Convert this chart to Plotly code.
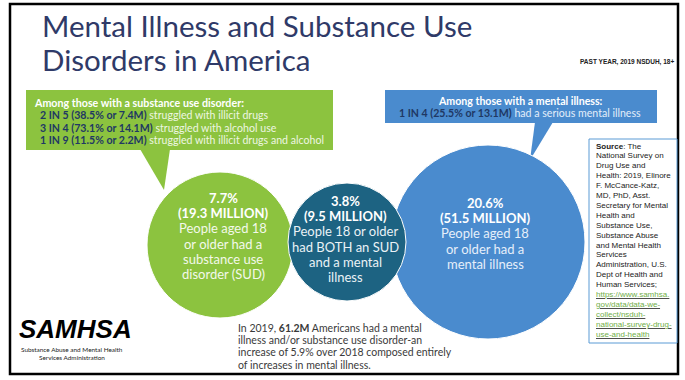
import plotly.graph_objects as go

# ---- figures from the 2019 NSDUH (past year, adults 18+) ----
group_pct = [7.7, 3.8, 20.6]
group_millions = [19.3, 9.5, 51.5]
group_desc = [
    ["People aged 18", "or older had a", "substance use", "disorder (SUD)"],
    ["People 18 or older", "had BOTH an SUD", "and a mental", "illness"],
    ["People aged 18", "or older had a", "mental illness"],
]

sud_ratio = ["2 IN 5", "3 IN 4", "1 IN 9"]
sud_pct = [38.5, 73.1, 11.5]
sud_millions = [7.4, 14.1, 2.2]
sud_desc = ["struggled with illicit drugs", "struggled with alcohol use",
            "struggled with illicit drugs and alcohol"]

smi_ratio = "1 IN 4"
smi_pct = 25.5
smi_millions = 13.1
smi_desc = "had a serious mental illness"

total_millions = 61.2
increase_pct = 5.9

source_lines = [
    "<b>Source</b>: The", "National Survey on", "Drug Use and",
    "Health: 2019, Elinore", "F. McCance-Katz,", "MD, PhD, Asst.",
    "Secretary for Mental", "Health and", "Substance Use,",
    "Substance Abuse", "and Mental Health", "Services",
    "Administration, U.S.", "Dept of Health and", "Human Services;",
]
source_link = ["https://www.samhsa.", "gov/data/data-we-", "collect/nsduh-",
               "national-survey-drug-", "use-and-health"]

# ---- styling ----
GREEN = "#8cc33f"
TEAL = "#1d6382"
BLUE = "#4a8bce"
NAVY = "#1f3864"
TITLE = "#2f3a68"
SANS = "Lato"

W, H = 685, 380
fig = go.Figure()
shapes = []
ann = []


def text(x, y, s, size, color="white", family=SANS, xanchor="center", weight=None):
    f = dict(size=size, color=color, family=family)
    if weight:
        f["weight"] = weight
    ann.append(dict(x=x, y=y, xref="x", yref="y", text=s, showarrow=False,
                    xanchor=xanchor, yanchor="middle", font=f))


# outer frame
shapes.append(dict(type="rect", x0=10, y0=4, x1=678, y1=374,
                   line=dict(color="black", width=2.5), fillcolor="white", layer="below"))

# title
text(40, 25, "Mental Illness and Substance Use", 29.5, TITLE, xanchor="left")
text(40, 59, "Disorders in America", 29.5, TITLE, xanchor="left")
text(676, 62, "<b>PAST YEAR, 2019 NSDUH, 18+</b>", 6.5, "#222", "Liberation Sans", xanchor="right")

# green call-out box with pointer
shapes.append(dict(type="rect", x0=26, y0=90, x1=333, y1=150, fillcolor=GREEN,
                   line=dict(width=0)))
shapes.append(dict(type="path", path="M 140 149 L 170 149 L 164 190 Z",
                   fillcolor=GREEN, line=dict(width=0)))
text(32, 102, "<b>Among those with a substance use disorder:</b>", 10.7, "white", xanchor="left")
for i in range(3):
    s = (f"<b><span style='color:{NAVY}'>{sud_ratio[i]} ({sud_pct[i]}% or {sud_millions[i]}M)</span></b>"
         f" <span style='color:#eef6e2'>{sud_desc[i]}</span>")
    text(38, 115 + 12.5 * i, s, 10.6, xanchor="left")

# blue call-out box with pointer
shapes.append(dict(type="rect", x0=385, y0=90, x1=657, y1=123, fillcolor=BLUE,
                   line=dict(width=0)))
shapes.append(dict(type="path", path="M 535 122 L 553 122 L 530 160 Z",
                   fillcolor=BLUE, line=dict(width=0)))
text(520, 101, "<b>Among those with a mental illness:</b>", 10.6)
text(520, 113, (f"<b><span style='color:{NAVY}'>{smi_ratio} ({smi_pct}% or {smi_millions}M)</span></b>"
                f" <span style='color:#e3eefa'>{smi_desc}</span>"), 10.6)

# circles: SUD, mental illness, then the overlap on top
circles = [(220, 245, 73, GREEN), (488, 242, 97, BLUE), (347, 242, 59, TEAL)]
for cx, cy, r, col in circles:
    shapes.append(dict(type="circle", x0=cx - r, y0=cy - r, x1=cx + r, y1=cy + r,
                       fillcolor=col, line=dict(color="white", width=1)))

centers = [(223, 198), (345, 201), (485, 203)]
soft = ["#f3f9ea", "#eaf2f6", "#e6effa"]
for k in range(3):
    cx, y0 = centers[k]
    text(cx, y0, f"<b>{group_pct[k]}%</b>", 13)
    text(cx, y0 + 15.2, f"<b>({group_millions[k]} MILLION)</b>", 13)
    for j, line in enumerate(group_desc[k]):
        text(cx, y0 + 30.4 + 15.2 * j, line, 13, soft[k])

# summary paragraph
para = [
    f"In 2019, <b>{total_millions}M</b> Americans had a mental",
    "illness and/or substance use disorder-an",
    f"increase of {increase_pct}% over 2018 composed entirely",
    "of increases in mental illness.",
]
for i, line in enumerate(para):
    text(236, 328 + 12.2 * i, line, 10.5, "#3a3a3a", xanchor="left")

# SAMHSA logo wordmark
text(17, 329, "<b><i>SAMHSA</i></b>", 26, "black", "Liberation Sans", xanchor="left")
text(72, 349, "Substance Abuse and Mental Health", 6.4, "#222", SANS)
text(72, 357, "Services Administration", 6.4, "#222", SANS)

# source box
shapes.append(dict(type="rect", x0=589, y0=139, x1=677, y1=343,
                   fillcolor="white", line=dict(color="#5b9bd5", width=1)))
for i, line in enumerate(source_lines + source_link):
    if i >= len(source_lines):
        line = f"<u><span style='color:#70ad47'>{line}</span></u>"
    text(594, 146 + 9.9 * i, line, 8, "#222", "Liberation Sans", xanchor="left")

fig.update_layout(
    width=W, height=H, margin=dict(l=0, r=0, t=0, b=0),
    paper_bgcolor="white", plot_bgcolor="white",
    xaxis=dict(range=[0, W], visible=False, fixedrange=True),
    yaxis=dict(range=[H, 0], visible=False, fixedrange=True),
    shapes=shapes, annotations=ann, showlegend=False,
)
fig.write_html("out.html")
